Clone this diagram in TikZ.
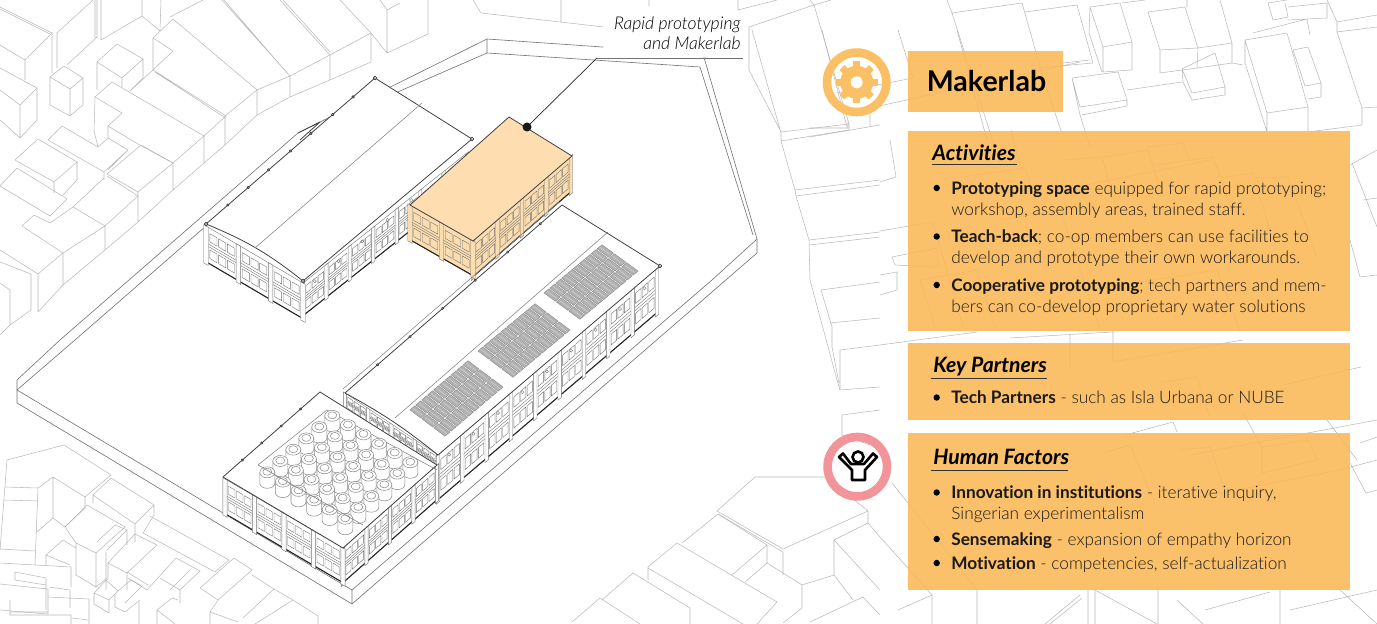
\documentclass[tikz,border=0pt]{standalone}
\usepackage{fontspec}
\setmainfont[Ligatures=NoCommon]{Lato}
\newfontfamily\lightfont[Ligatures=NoCommon]{Lato Light}
\usetikzlibrary{calc}

\definecolor{panelorange}{HTML}{FBB95A}
\definecolor{ringorange}{HTML}{FBBF66}
\definecolor{ringpink}{HTML}{F2959B}
\definecolor{roofpeach}{HTML}{FEDDB0}
\definecolor{wallpeach}{HTML}{FBDDB0}

\tikzset{
    bgline/.style={draw=black!28, line width=0.3pt, line join=round},
    siteline/.style={draw=black!55, line width=0.35pt},
    wallline/.style={draw=black!55, line width=0.22pt},
    roofline/.style={draw=black!75, line width=0.45pt, line join=round},
    panelbox/.style={fill=panelorange, fill opacity=0.9, inner sep=0pt},
    headtext/.style={anchor=base west, inner sep=0pt, font=\fontsize{12.05}{14}\selectfont\bfseries\itshape},
    bodytext/.style={anchor=base west, inner sep=0pt, text=black!90, font=\fontsize{9.8}{11}\selectfont\lightfont},
    calltext/.style={anchor=base east, inner sep=0pt, font=\fontsize{10}{11}\selectfont\lightfont\itshape},
    headrule/.style={draw=black!80, line width=0.5pt},
    tankbody/.style={draw=black!45, fill=white, line width=0.3pt},
    solarcell/.style={draw=black!50, fill=black!30, line width=0.18pt},
}

% wall: x1 y1 x2 y2 height bays fill
\newcommand{\wallface}[7]{
    \pgfmathsetmacro\wdx{(#3-#1)*0.02/#6}
    \pgfmathsetmacro\wdy{-(#4-#2)*0.02/#6}
    \pgfmathsetmacro\wdh{-#5*0.02}
    \begin{scope}[shift={(#1,#2)},x={(\wdx cm,\wdy cm)},y={(0cm,\wdh cm)}]
        \filldraw[wallline, fill=#7] (0,0) -- (#6,0) -- (#6,1) -- (0,1) -- cycle;
        \draw[black!85, line width=0.6pt] (0,0.99) -- (#6,0.99);
        \foreach \bay in {1,...,#6}{
            \foreach \rowa/\rowb in {0.15/0.38,0.6/0.84}{
                \foreach \pane in {0.12,0.39,0.66}{
                    \draw[wallline] (\bay-1+\pane,\rowa) -- (\bay-0.78+\pane,\rowa) -- (\bay-0.78+\pane,\rowb) -- (\bay-1+\pane,\rowb) -- cycle;
                }
            }
            \draw[wallline] (\bay-1,0.46) -- (\bay,0.46);
            \draw[wallline] (\bay-1,0.53) -- (\bay,0.53);
        }
        \foreach \bay in {0,...,#6}{
            \filldraw[wallline, fill=#7] (\bay-0.07,0) -- (\bay+0.07,0) -- (\bay+0.07,1.06) -- (\bay-0.07,1.06) -- cycle;
        }
    \end{scope}
}

% solar array: left corner, top corner, bottom corner
\newcommand{\solararray}[6]{
    \pgfmathsetmacro\sax{(#3-#1)*0.02/10}
    \pgfmathsetmacro\say{-(#4-#2)*0.02/10}
    \pgfmathsetmacro\sbx{(#5-#1)*0.02/3}
    \pgfmathsetmacro\sby{-(#6-#2)*0.02/3}
    \begin{scope}[shift={(#1,#2)},x={(\sax cm,\say cm)},y={(\sbx cm,\sby cm)}]
        \foreach \scol in {0,...,9}{
            \foreach \srow in {0,1,2}{
                \filldraw[solarcell] (\scol+0.08,\srow+0.04) -- (\scol+0.92,\srow+0.04) -- (\scol+0.92,\srow+0.96) -- (\scol+0.08,\srow+0.96) -- cycle;
                \draw[black!15, line width=0.2pt] (\scol+0.5,\srow+0.1) -- (\scol+0.5,\srow+0.9);
            }
        }
    \end{scope}
}

\begin{document}
\begin{tikzpicture}[x=0.02cm,y=-0.02cm]
    \useasboundingbox (0,0) rectangle (1377,624);
    \clip (0,0) rectangle (1377,624);

    % city, top left
    \draw[bgline] (0,7) -- (52,33) -- (25,60) -- (0,45);
    \draw[bgline] (0,9) -- (50,34);
    \draw[bgline] (52,33) -- (52,73) (25,60) -- (25,80) (57,33) -- (57,68) (57,33) -- (93,0) (67,65) -- (97,37);
    \draw[bgline] (95,0) -- (95,38) (97,0) -- (97,38) (101,0) -- (101,40) -- (142,16) -- (142,0) (142,16) -- (160,31) -- (161,0);
    \draw[bgline] (0,68) -- (37,88) -- (20,105) -- (0,90) (37,88) -- (37,120) -- (20,138) -- (0,120) (20,105) -- (20,138);
    \draw[bgline] (50,77) -- (64,66) -- (83,78) -- (70,89) -- cycle (50,77) -- (50,105) -- (70,116) -- (83,105) -- (83,78) (70,89) -- (70,116);
    \draw[bgline] (97,62) -- (117,44) -- (143,59) -- (122,78) -- cycle (97,62) -- (97,90) (122,78) -- (122,87) (143,59) -- (143,78) -- (130,91);
    \draw[bgline] (95,97) -- (112,82) -- (204,136) -- (173,163) -- (138,144) -- (108,126) -- (122,113) -- cycle;
    \draw[bgline] (95,97) -- (94,131) -- (98,147) -- (108,138) -- (108,126) (173,163) -- (173,190) -- (204,163) -- (225,145) -- (257,115) (204,136) -- (204,163);
    \draw[bgline] (130,91) -- (153,70) -- (226,116) -- (204,136) (155,72) -- (224,117) (225,116) -- (225,145);
    \draw[bgline] (153,70) -- (153,38) -- (173,19) -- (257,90) -- (225,116) (153,38) -- (173,51) -- (153,70) (170,17) -- (203,0) (257,90) -- (257,115);
    \draw[bgline] (257,115) -- (290,97) -- (290,76) -- (222,0) (224,0) -- (288,74) (257,90) -- (290,76) -- (330,55) -- (280,0) (283,0) -- (330,52);
    \draw[bgline] (290,97) -- (330,80) -- (330,55) -- (371,33) -- (340,0) (330,80) -- (371,62) -- (371,33) -- (387,53) -- (400,47) (387,53) -- (387,10) -- (400,3) (387,10) -- (380,0);
    \draw[bgline] (15,160) -- (38,139) -- (77,162) -- (54,182) -- cycle (54,182) -- (54,193) (77,162) -- (77,180) -- (63,195);
    \draw[bgline] (0,186) -- (17,168) -- (67,199) -- (50,216) -- cycle;
    \draw[bgline] (48,140) -- (62,126) -- (98,147) (48,140) -- (104,172) -- (128,150) -- (108,138) (104,172) -- (104,180) (128,150) -- (108,170);
    \draw[bgline] (107,174) -- (141,145) -- (173,163) -- (138,192) -- cycle (138,192) -- (138,222) -- (173,190);
    \draw[bgline] (73,207) -- (104,178) (107,176) -- (138,196) -- (105,226) -- (73,207) (105,226) -- (105,250) -- (138,222);
    \draw[bgline] (22,226) -- (34,215) -- (50,223) -- (73,207) (22,226) -- (63,253) -- (105,226) (63,253) -- (38,274) -- (0,250) (63,253) -- (63,285) -- (38,312) -- (38,274) (63,285) -- (105,250);
    \draw[bgline] (0,262) -- (31,274) -- (31,310) -- (10,325) -- (10,290) -- (0,283) (10,325) -- (0,335);

    % city, bottom left
    \draw[bgline] (0,550) -- (7,460) -- (64,445) -- (111,475) -- (85,497) (5,487) -- (38,488) (4,500) -- (38,501) (38,488) -- (53,477) -- (85,497) -- (85,508) -- (65,527) -- (53,518) -- (53,477);
    \draw[bgline] (38,488) -- (35,565) (0,549) -- (35,551) (37,532) -- (53,518);
    \draw[bgline] (93,495) -- (111,478) -- (154,505) -- (135,524) -- cycle (93,495) -- (93,503) (154,505) -- (154,515) -- (143,533) (135,524) -- (135,542);
    \draw[bgline] (65,527) -- (87,505) -- (125,527) -- (96,553) -- (76,543) -- cycle (76,543) -- (76,575) -- (96,587) -- (96,553) (96,587) -- (107,578);
    \draw[bgline] (97,542) -- (115,525) -- (127,530) -- (107,550) (127,530) -- (127,545) (106,552) -- (106,590);
    \draw[bgline] (46,555) -- (63,540) -- (76,548) (46,555) -- (46,566) (46,555) -- (70,565);
    \draw[bgline] (108,563) -- (135,534) -- (157,545) -- (127,573) -- cycle (108,563) -- (108,580) (127,573) -- (127,590) (127,572) -- (148,585);
    \draw[bgline] (150,516) -- (229,560) -- (215,572) (143,533) -- (215,572);
    \draw[bgline] (200,588) -- (234,558) -- (252,570) -- (218,600) -- cycle (252,575) -- (274,589) -- (243,618) (218,600) -- (210,612) -- (238,622) (274,589) -- (293,600) -- (255,624) (293,600) -- (318,616) -- (318,624);
    \draw[bgline] (176,558) -- (147,590) -- (128,578) (176,558) -- (200,571) -- (180,590) -- (160,578) (180,590) -- (180,603) (190,570) -- (170,590);
    \draw[bgline] (94,593) -- (106,580) -- (118,591) -- (109,600) -- cycle (94,593) -- (94,604) -- (109,613) -- (109,600) (118,591) -- (131,580) -- (142,586) -- (125,603) (115,595) -- (115,607) -- (125,612) -- (140,600);
    \draw[bgline] (139,602) -- (139,624) (157,610) -- (172,598) -- (178,600) (157,610) -- (175,624) (157,610) -- (157,624) (210,612) -- (210,624);
    \draw[bgline] (0,563) -- (71,567) -- (71,587) (15,572) -- (46,578) -- (46,585) -- (15,580) -- cycle (46,578) -- (46,610) (0,584) -- (48,589) -- (48,614) -- (0,610);
    \draw[bgline] (49,587) -- (70,590) -- (70,608) (48,597) -- (89,599) -- (89,624) (10,600) -- (10,615) -- (71,615) -- (71,624) (10,612) -- (48,612) (72,618) -- (88,620);

    % city, top middle and around the site
    \draw[bgline] (473,0) -- (481,13) -- (604,27) (561,0) -- (561,22) (428,0) -- (428,34) -- (400,47) (649,0) -- (649,6) (738,0) -- (738,10) -- (777,0);
    \draw[bgline] (749,27) -- (814,5) -- (810,0) (814,5) -- (831,0) (749,27) -- (749,70) -- (781,132) -- (781,141) (752,30) -- (781,133) (814,5) -- (849,124) -- (781,132) (849,124) -- (849,130) -- (781,141);
    \draw[bgline] (781,141) -- (795,190) -- (880,180) (796,196) -- (880,185) (795,190) -- (796,196) -- (809,240) -- (880,232) (809,245) -- (880,237) (809,240) -- (810,280) -- (837,380) -- (840,390) -- (880,387);
    \draw[bgline] (821,290) -- (880,282) (821,290) -- (832,327) -- (832,347) -- (839,383) (830,323) -- (880,318) (840,350) -- (880,345) (840,350) -- (840,390);
    \draw[bgline] (842,415) -- (880,410) (842,415) -- (842,435) -- (870,445) (755,477) -- (825,477) (755,477) -- (717,511) -- (783,549) -- (868,511) -- (868,523) (718,514) -- (783,552) -- (783,575) (830,480) -- (868,511);
    \draw[bgline] (718,514) -- (682,543) (718,514) -- (767,545) -- (732,575) (767,545) -- (767,563) -- (802,585) -- (802,608) -- (783,623) (677,543) -- (777,602) -- (757,624) (648,567) -- (677,543) (648,568) -- (743,624) (648,567) -- (648,580) (745,582) -- (767,563);
    \draw[bgline] (633,573) -- (690,608) -- (690,624) (633,573) -- (602,600) (572,622) -- (600,598) -- (640,624) (802,585) -- (834,575) -- (834,540) -- (868,523) (834,575) -- (853,600) (834,540) -- (880,590) (868,523) -- (880,537) (863,597) -- (810,622) (863,597) -- (880,615);

    % city, right of the site
    \draw[bgline] (822,30) -- (847,127) (848,128) -- (848,122) (810,137) -- (880,125) (810,128) -- (848,128) (870,127) -- (870,108) -- (1080,62) (837,93) -- (913,78) (898,30) -- (913,78) (957,30) -- (987,140);
    \draw[bgline] (947,0) -- (952,13) -- (1001,167) (952,13) -- (1022,3) -- (1041,70) -- (1061,131) (1025,12) -- (1077,5) -- (1093,63) -- (1037,68) (1063,63) -- (1090,60);
    \draw[bgline] (1090,7) -- (1120,3) -- (1132,42) -- (1103,47) -- cycle (1103,47) -- (1103,72) -- (1132,70) -- (1132,42) (1090,7) -- (1089,33) -- (1102,72) (1122,3) -- (1145,0);
    \draw[bgline] (1148,12) -- (1185,7) -- (1198,48) -- (1160,50) -- cycle (1160,50) -- (1160,73) -- (1197,68) -- (1198,48) (1187,0) -- (1187,7) (1220,0) -- (1232,43) -- (1198,48) (1232,43) -- (1232,63) -- (1243,65) (1232,63) -- (1197,68);
    \draw[bgline] (1182,69) -- (1215,53) -- (1225,87) -- (1192,93) -- cycle (1182,69) -- (1183,82) -- (1192,100) -- (1225,95) -- (1225,87) (1127,90) -- (1182,82);
    \draw[bgline] (1245,40) -- (1287,33) -- (1308,107) -- (1267,113) -- cycle (1245,40) -- (1245,63) -- (1267,132) -- (1267,113) (1308,107) -- (1308,131);
    \draw[bgline] (1293,50) -- (1308,47) -- (1321,83) -- (1305,86) -- cycle (1321,83) -- (1321,97) -- (1308,99);
    \draw[bgline] (1072,78) -- (1118,72) -- (1127,100) -- (1080,107) -- cycle (1127,100) -- (1127,106) -- (1082,115) (1072,78) -- (1080,115) -- (1090,147);
    \draw[bgline] (1253,33) -- (1307,19) -- (1310,35) (1268,3) -- (1287,0) (1268,3) -- (1273,20) -- (1288,17) -- (1285,3) (1288,7) -- (1327,3) -- (1327,18) -- (1288,20);
    \draw[bgline] (1327,0) -- (1337,22) -- (1377,15) (1337,22) -- (1337,32) -- (1362,108) -- (1377,107) (1362,108) -- (1362,125) -- (1308,132) (1337,32) -- (1377,27);

    % city, under the panels
    \draw[bgline] (1065,160) -- (1102,157) -- (1115,203) (1105,157) -- (1148,150) -- (1163,197) (1148,147) -- (1183,143) -- (1190,160) (1155,165) -- (1213,157) -- (1233,213);
    \draw[bgline] (1222,178) -- (1253,173) -- (1270,230) (1257,178) -- (1288,177) -- (1317,257) (963,177) -- (1025,168) -- (1038,210) (1011,130) -- (1020,165);
    \draw[bgline] (920,280) -- (977,270) -- (995,327) (920,280) -- (935,327) (892,257) -- (937,248) -- (938,267) -- (895,265) -- cycle (880,295) -- (897,290) -- (897,272) -- (880,275);
    \draw[bgline] (880,231) -- (933,222) -- (963,327) (1000,220) -- (1060,210) -- (1100,330) (880,182) -- (896,177) -- (890,140) (1090,290) -- (1217,270) -- (1240,331) (1060,190) -- (1211,160);
    \draw[bgline] (1350,165) -- (1377,150) (1352,163) -- (1377,227) (1363,200) -- (1377,198) (1360,277) -- (1377,275) (1360,277) -- (1350,240);
    \draw[bgline] (880,345) -- (977,332) (1070,335) -- (1070,367) (1113,330) -- (1113,362) -- (1243,340) (1010,338) -- (1113,332) (1163,382) -- (1197,377) -- (1210,417) (1283,385) -- (1361,367) (1243,413) -- (1262,447);
    \draw[bgline] (1103,453) -- (1130,445) -- (1152,497) (1125,435) -- (1173,422) -- (1177,432) (1180,450) -- (1210,447) -- (1227,497) (1262,447) -- (1308,440) -- (1317,460) -- (1262,473) -- cycle;
    \draw[bgline] (1190,455) -- (1377,420) (1200,497) -- (1340,470) -- (1377,460) (892,483) -- (977,590) -- (977,624) (898,610) -- (932,595) -- (932,624) (932,595) -- (880,537);
    \draw[bgline] (1350,463) -- (1366,493) -- (1377,490) (1327,420) -- (1357,460) (1360,443) -- (1377,437) (1088,590) -- (1088,624) (1095,590) -- (1095,624) (1158,590) -- (1158,624) (1280,590) -- (1280,624);
    \draw[bgline] (1045,624) -- (1080,595) (1050,624) -- (1082,598) (1095,590) -- (1157,624) (1205,610) -- (1270,592) (1177,600) -- (1203,624) (1290,610) -- (1377,590) (1340,590) -- (1377,624);

    % site plinth
    \draw[siteline] (17,380) -- (60,340) -- (298,133) -- (487,39) -- (703,54) -- (757,239) -- (757,253) -- (352,604) -- (17,403) -- cycle;
    \draw[siteline] (17,390) -- (75,340) -- (322,125) -- (487,53) -- (700,67) -- (753,235);
    \draw[siteline] (487,39) -- (487,53) (17,390) -- (352,590) -- (352,604) (352,590) -- (712,280) -- (757,239);

    % left hall
    \wallface{303}{283}{467}{153}{33}{7}{white}
    \wallface{206}{226}{303}{283}{36}{3}{white}
    \coordinate (halla) at (375,78);
    \coordinate (hallb) at (472,139);
    \coordinate (hallc) at (303,281);
    \coordinate (halld) at (206,224);
    \filldraw[roofline, fill=white] (halla) -- (hallb) -- (hallc) to[bend right=8] (halld) -- cycle;
    \draw[bgline, draw=black!50] (422,103) -- (255,248);
    \draw[roofline] (298,133) -- (320,122) -- (300,140);
    \foreach \tt in {0.13,0.25,0.37,0.5,0.62,0.75,0.87}
        \filldraw[roofline, fill=white] ($(halld)!\tt!(halla)$) circle (1.2);
    \foreach \cc in {halla,hallb,hallc,halld}
        \filldraw[roofline, fill=white] (\cc) circle (1.8);
    \foreach \tt in {0.07,0.21,0.35,0.5,0.64}
        \draw[wallline] ($(hallc)!\tt!(hallb)+(0,10)$) circle (1.6);

    % makerlab block
    \wallface{473}{241}{571}{156}{36}{4}{wallpeach}
    \wallface{410}{205}{473}{241}{35}{2}{wallpeach}
    \filldraw[roofline, fill=roofpeach] (509,117) -- (572,156) -- (473,241) -- (410,205) -- cycle;

    % long block
    \wallface{345}{393}{438}{455}{16}{4}{white}
    \wallface{438}{455}{657}{268}{45}{9}{white}
    \coordinate (longa) at (562,205);
    \coordinate (longb) at (660,266);
    \coordinate (longc) at (438,455);
    \coordinate (longd) at (345,393);
    \filldraw[roofline, fill=white] (longa) -- (longb) -- (longc) to[bend right=5] (longd) -- cycle;
    \draw[bgline, draw=black!50] (608,232) -- (395,418);
    \draw[bgline, draw=black!50] (343,389) -- (559,202);
    \foreach \tt in {0.15,0.3,0.45,0.6,0.75,0.9}
        \filldraw[roofline, fill=white] ($(longd)!\tt!(longa)$) circle (1.1);
    \filldraw[roofline, fill=white] (longb) circle (1.8);
    \foreach \tt in {0.05,0.16,0.27,0.38,0.49,0.6,0.71,0.82,0.93}
        \draw[wallline] ($(longc)!\tt!(longb)+(0,9)$) circle (1.6);
    \solararray{409}{410}{468}{360}{445}{437}
    \solararray{477}{351}{535}{303}{513}{378}
    \solararray{543}{293}{602}{244}{580}{320}

    % tank block
    \wallface{343}{548}{437}{465}{35}{4}{white}
    \wallface{225}{479}{343}{548}{35}{4}{white}
    \coordinate (tanka) at (320,392);
    \coordinate (tankb) at (437,465);
    \coordinate (tankc) at (343,548);
    \coordinate (tankd) at (223,477);
    \filldraw[roofline, fill=white] (tanka) -- (tankb) -- (tankc) -- (tankd) -- cycle;
    \foreach \tt in {0.2,0.4,0.6,0.8}
        \filldraw[roofline, fill=white] ($(tankd)!\tt!(tanka)$) circle (1.1);
    \draw[bgline, draw=black!50] (258,465) -- (327,410) -- (437,470);
    \foreach \trow in {5,4,3,2,1,0}{
        \foreach \tcol in {0,...,5}{
            \pgfmathsetmacro\tx{267.3+15.6*\tcol+13*\trow}
            \pgfmathsetmacro\ty{478.3+9.3*\tcol-11.3*\trow}
            \filldraw[tankbody] (\tx-7.5,\ty-6) -- (\tx-7.5,\ty+5) arc[start angle=180, end angle=0, x radius=7.5, y radius=5] -- (\tx+7.5,\ty-6) -- cycle;
            \filldraw[tankbody] (\tx,\ty-6) ellipse (7.5 and 5.5);
            \draw[tankbody] (\tx,\ty-6.5) ellipse (4.5 and 3.5);
        }
    }
    \draw[bgline, draw=black!55] (258,465) -- (363,525);

    % callout
    \fill[white] (603,15) rectangle (745,57);
    \node[calltext] (callouta) at (741,30) {Rapid prototyping};
    \node[calltext] (calloutb) at (741,50) {and Makerlab};
    \coordinate (calloutend) at (743,58);
    \coordinate (calloutbend) at (597,58);
    \coordinate (calloutdot) at (527,127);
    \draw[black!55, line width=0.5pt] (calloutend) -- (calloutbend);
    \draw[black!85, line width=0.4pt] (calloutbend) -- (calloutdot);
    \fill[black!90] (calloutdot) circle (4.5);

    % panels
    \node[panelbox, minimum width=3.1cm, minimum height=1.22cm] (titlebox) at (985.5,81.5) {};
    \node[panelbox, minimum width=8.84cm, minimum height=4cm] (activitybox) at (1129,231) {};
    \node[panelbox, minimum width=8.84cm, minimum height=1.54cm] (partnerbox) at (1129,381.5) {};
    \node[panelbox, minimum width=8.84cm, minimum height=3.14cm] (factorbox) at (1129,511.5) {};

    \node[anchor=base west, inner sep=0pt, font=\fontsize{16.25}{18}\selectfont\bfseries] (maintitle) at (926.5,92) {Makerlab};

    \node[headtext] (activityhead) at (932,161) {Activities};
    \draw[headrule] (932,164.5) -- (1017,164.5);
    \node[bodytext] (acta) at (951,194.3) {{\normalfont\bfseries Prototyping space} equipped for rapid prototyping;};
    \node[bodytext] (actb) at (951,215.7) {workshop, assembly areas, trained staff.};
    \node[bodytext] (actc) at (951,242.7) {{\normalfont\bfseries Teach-back}; co-op members can use facilities to};
    \node[bodytext] (actd) at (951,264) {develop and prototype their own workarounds.};
    \node[bodytext] (acte) at (951,291.3) {{\normalfont\bfseries Cooperative prototyping}; tech partners and mem-};
    \node[bodytext] (actf) at (951,312.7) {bers can co-develop proprietary water solutions};

    \node[headtext] (partnerhead) at (933,372.7) {Key Partners};
    \draw[headrule] (931,378) -- (1047,378);
    \node[bodytext] (parta) at (951,404) {{\normalfont\bfseries Tech Partners} - such as Isla Urbana or NUBE};

    \node[headtext] (factorhead) at (933,465) {Human Factors};
    \draw[headrule] (931,470.5) -- (1068,470.5);
    \node[bodytext] (faca) at (951,499) {{\normalfont\bfseries Innovation in institutions} - iterative inquiry,};
    \node[bodytext] (facb) at (951,520) {Singerian experimentalism};
    \node[bodytext] (facc) at (951,545.3) {{\normalfont\bfseries Sensemaking} - expansion of empathy horizon};
    \node[bodytext] (facd) at (951,569.3) {{\normalfont\bfseries Motivation} - competencies, self-actualization};

    \foreach \by in {188,236.5,285,397.5,492.5,539,563}
        \fill[black] (936.7,\by) circle (3.2);

    % gear icon
    \draw[ringorange, line width=4.9pt] (856.7,82.3) circle (29.7);
    \foreach \aa in {0,45,...,315}
        \fill[ringorange, rotate around={\aa:(856.7,82.3)}] (853.2,61.5) rectangle (860.2,72);
    \fill[ringorange] (856.7,82.3) circle (16.5);
    \fill[white] (856.7,82.3) circle (6);

    % people icon
    \draw[ringpink, line width=4.9pt] (857.3,466.7) circle (29.7);
    \draw[black, line width=1.5pt, line join=round] (839,457) -- (852,470) -- (852,480) -- (865,480) -- (865,470) -- (877,457) -- (873,453.5) -- (864,464) -- (851,464) -- (843,453.5) -- cycle;
    \filldraw[black, fill=white, line width=1.5pt] (858,457) circle (5.5);
\end{tikzpicture}
\end{document}
